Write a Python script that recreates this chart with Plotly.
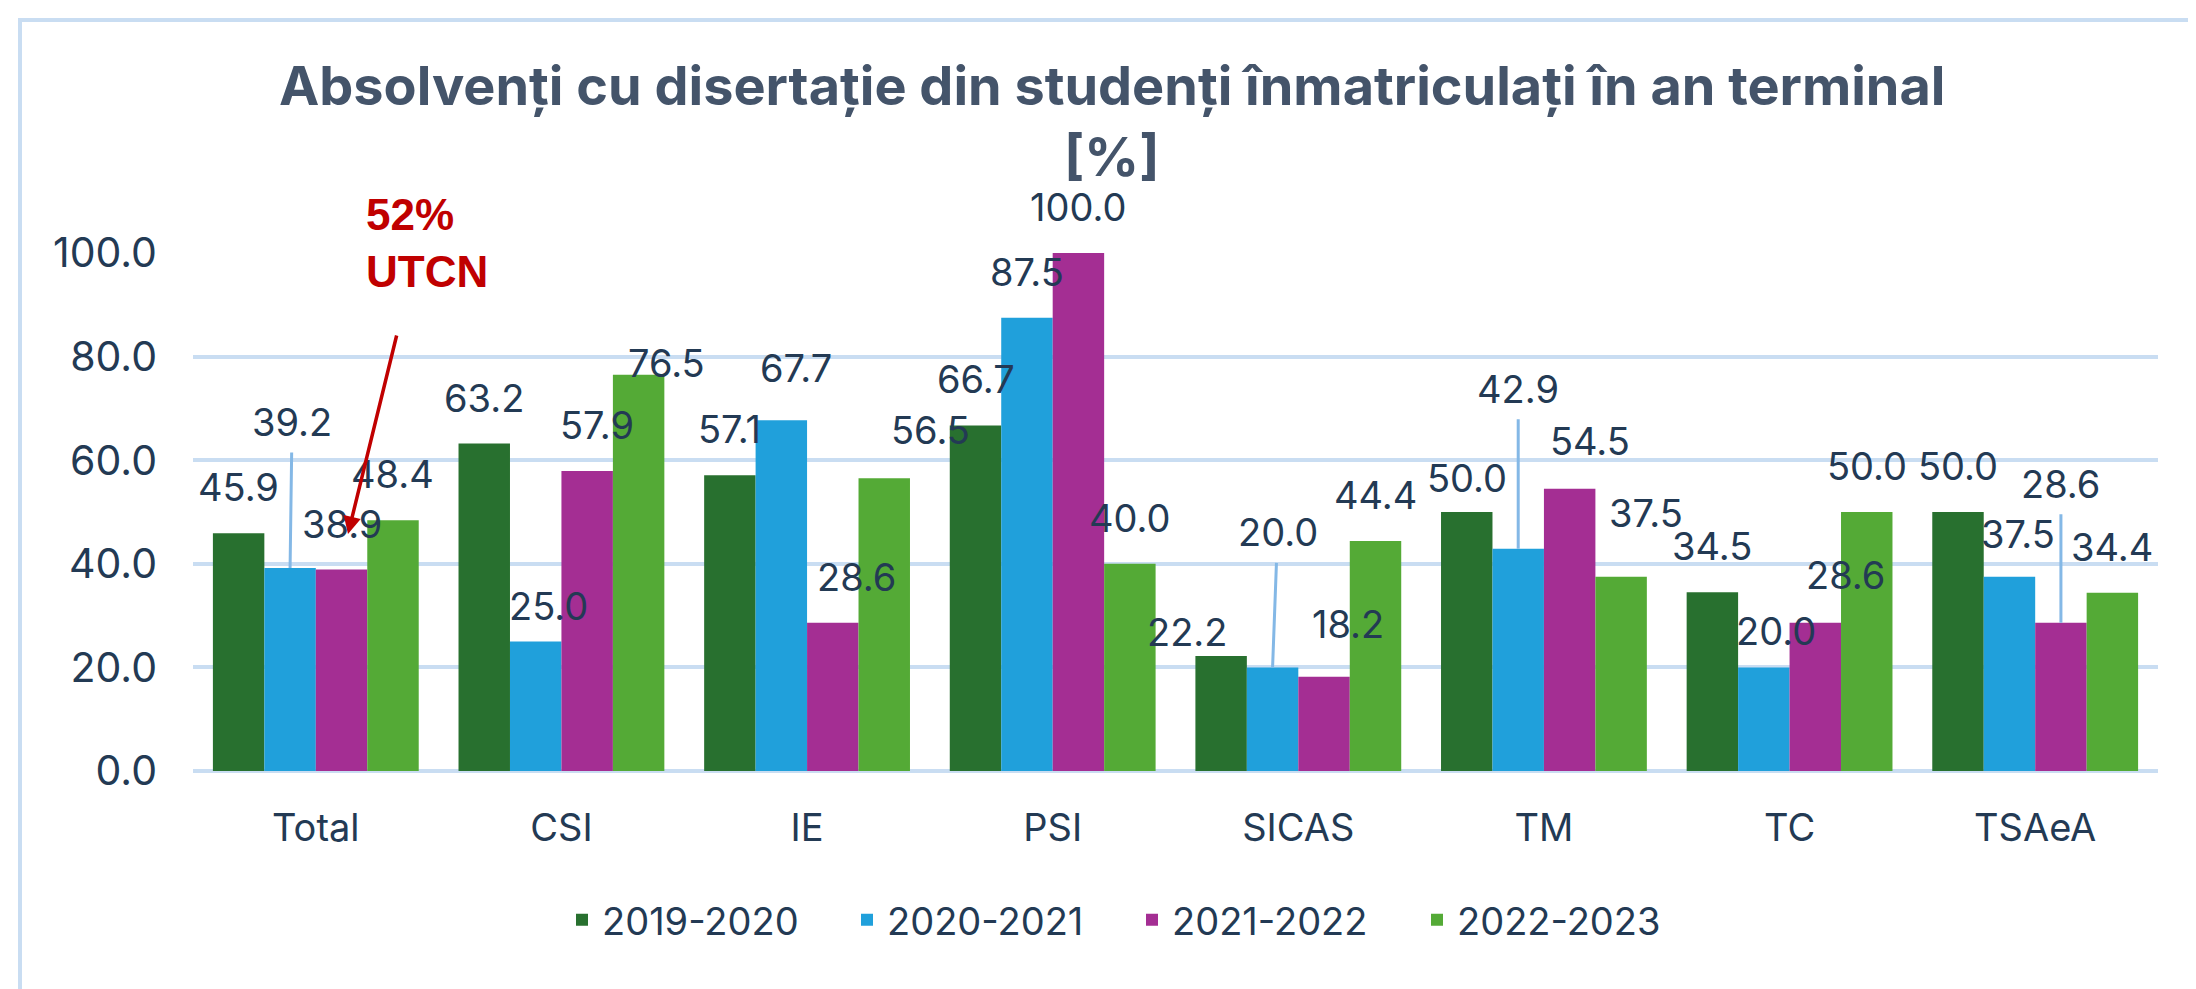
import plotly.graph_objects as go

# ---------------- data ----------------
categories = ["Total", "CSI", "IE", "PSI", "SICAS", "TM", "TC", "TSAeA"]
series_names = ["2019-2020", "2020-2021", "2021-2022", "2022-2023"]
v_2019_2020 = [45.9, 63.2, 57.1, 66.7, 22.2, 50.0, 34.5, 50.0]
v_2020_2021 = [39.2, 25.0, 67.7, 87.5, 20.0, 42.9, 20.0, 37.5]
v_2021_2022 = [38.9, 57.9, 28.6, 100.0, 18.2, 54.5, 28.6, 28.6]
v_2022_2023 = [48.4, 76.5, 56.5, 40.0, 44.4, 37.5, 50.0, 34.4]
y_ticks = [0, 20, 40, 60, 80, 100]
title_line1 = "Absolvenți cu disertație din studenți înmatriculați în an terminal"
title_line2 = "[%]"
note_text = "52%<br>UTCN"

series_values = [v_2019_2020, v_2020_2021, v_2021_2022, v_2022_2023]

# ---------------- styles / layout ----------------
W, H = 2196, 989
ML, MR, MT, MB = 185, 46, 245, 226
PW, PH = W - ML - MR, H - MT - MB
BARGAP = 0.162
colors = ["#28702F", "#20A0DB", "#A42E93", "#54AA36"]
text_color = "#233A54"
grid_color = "#C9DDF2"
FONT = "Inter"

cat_w = PW / len(categories)
bar_w = cat_w * (1 - BARGAP) / len(series_names)

# label offsets (kind, dx, dy_up) in pixels relative to top centre of each bar
default_off = ("text", 0, 46)
label_off = {
    (1, 0): ("lead", 2, 146),
    (1, 4): ("lead", 5, 135),
    (1, 5): ("lead", 0, 160),
    (2, 7): ("lead", 0, 139),
    (1, 1): ("text", 13, 36),
    (1, 7): ("text", 9, 43),
    (0, 4): ("text", -34, 24),
    (2, 4): ("text", 24, 53),
    (0, 5): ("text", 0, 34),
    (2, 5): ("text", 20, 48),
    (3, 5): ("text", 25, 64),
    (1, 6): ("text", 12, 36),
    (2, 6): ("text", 30, 48),
    (3, 1): ("text", 28, 12),
    (2, 1): ("text", 10, 46),
    (1, 2): ("text", 15, 52),
    (2, 2): ("text", 24, 46),
    (3, 2): ("text", 46, 48),
}


def px2x(px):
    return (px - ML) / PW


def py2y(py):
    return (MT + PH - py) / PH


fig = go.Figure()
for name, vals, col in zip(series_names, series_values, colors):
    fig.add_trace(go.Bar(
        name=name, x=categories, y=vals,
        marker=dict(color=col, line=dict(width=0)),
        hoverinfo="x+y+name",
    ))

annotations = []
for si, vals in enumerate(series_values):
    base_shift = (si - (len(series_names) - 1) / 2) * bar_w
    for ci, v in enumerate(vals):
        kind, dx, dy = label_off.get((si, ci), default_off)
        common = dict(
            x=categories[ci], y=v, xref="x", yref="y",
            text=f"{v:.1f}", font=dict(family=FONT, size=38, color=text_color),
        )
        if kind == "lead":
            annotations.append(dict(
                **common, xshift=base_shift, showarrow=True, arrowhead=0,
                arrowwidth=3, arrowcolor="#84B8E6", ax=dx, ay=-dy,
                standoff=0, startstandoff=6,
            ))
        else:
            annotations.append(dict(
                **common, xshift=base_shift + dx, yshift=dy, showarrow=False,
                xanchor="center", yanchor="middle",
            ))

# title lines
annotations.append(dict(
    text=f"<b>{title_line1}</b>", xref="paper", yref="paper",
    x=px2x(1104), y=py2y(77), xanchor="center", yanchor="middle", showarrow=False,
    font=dict(family=FONT, size=54, color="#44546A"),
))
annotations.append(dict(
    text=f"<b>{title_line2}</b>", xref="paper", yref="paper",
    x=px2x(1104), y=py2y(148), xanchor="center", yanchor="middle", showarrow=False,
    font=dict(family=FONT, size=54, color="#44546A"),
))
# red note + arrow
annotations.append(dict(
    text=f"<b>{note_text}</b>", xref="paper", yref="paper",
    x=px2x(356), y=py2y(180), xanchor="left", yanchor="top", align="left",
    showarrow=False,
    font=dict(family="Liberation Sans", size=44, color="#C00000"),
))
annotations.append(dict(
    text="", xref="paper", yref="paper", x=px2x(340), y=py2y(526),
    showarrow=True, arrowhead=2, arrowsize=1, arrowwidth=3.5,
    arrowcolor="#C00000", ax=389 - 340, ay=326 - 526,
))

shapes = [
    dict(type="line", xref="paper", yref="paper", x0=px2x(10), x1=px2x(W + 5),
         y0=py2y(12), y1=py2y(12), line=dict(color=grid_color, width=4)),
    dict(type="line", xref="paper", yref="paper", x0=px2x(12), x1=px2x(12),
         y0=py2y(10), y1=py2y(H + 5), line=dict(color=grid_color, width=4)),
]

fig.update_layout(
    width=W, height=H,
    margin=dict(l=ML, r=MR, t=MT, b=MB, autoexpand=False),
    paper_bgcolor="white", plot_bgcolor="white",
    barmode="group", bargap=BARGAP, bargroupgap=0,
    font=dict(family=FONT, color=text_color),
    annotations=annotations, shapes=shapes,
    showlegend=True,
    legend=dict(
        orientation="h", x=px2x(1124), xanchor="center", y=py2y(912),
        yanchor="middle", font=dict(family=FONT, size=38, color=text_color),
        entrywidth=240, entrywidthmode="pixels", bgcolor="rgba(0,0,0,0)",
    ),
    xaxis=dict(
        showgrid=False, showline=False, zeroline=False, ticks="",
        tickfont=dict(family=FONT, size=38, color=text_color),
        ticklabelstandoff=31,
    ),
    yaxis=dict(
        range=[0, 100], tickvals=y_ticks, tickformat=".1f",
        showgrid=True, gridcolor=grid_color, gridwidth=3.5,
        zeroline=True, zerolinecolor=grid_color, zerolinewidth=3.5,
        showline=False, ticks="",
        tickfont=dict(family=FONT, size=41, color=text_color),
        ticklabelstandoff=35,
    ),
)

fig.write_html("out.html")
